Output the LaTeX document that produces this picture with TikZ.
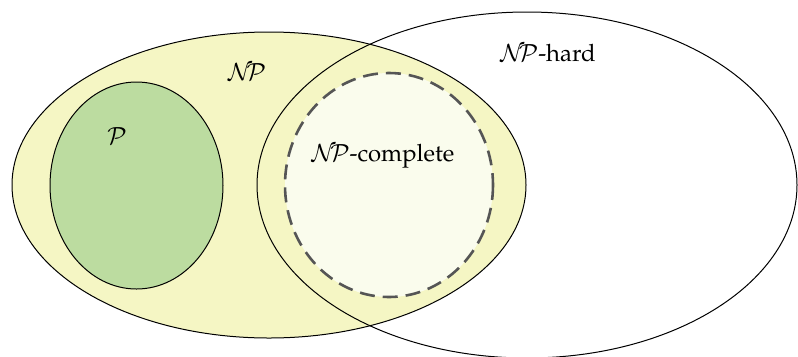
\documentclass[tikz,border=0pt]{standalone}
\usepackage[T1]{fontenc}
\usepackage{mathpazo}
\DeclareMathAlphabet{\mathcal}{OMS}{cmsy}{m}{n}
\newcommand{\calNP}{\ensuremath{\mathcal{N}\mkern-4mu\mathcal{P}}}
\definecolor{npyellow}{RGB}{245,246,196}
\definecolor{pgreen}{RGB}{188,220,160}
\definecolor{npclight}{RGB}{250,252,237}
\definecolor{dashgrey}{RGB}{85,85,85}
\tikzset{
  setline/.style={draw=black, line width=1bp},
  lbl/.style={inner sep=0pt, font=\fontsize{24}{28}\selectfont},
}
\begin{document}
\begin{tikzpicture}[x=1bp,y=-1bp]
\useasboundingbox (0,0) rectangle (798,356);
% NP fill
\fill[npyellow] (269,185) ellipse [x radius=257, y radius=153];
% P
\fill[pgreen] (136.5,185.5) ellipse [x radius=86.5, y radius=103.5];
\draw[setline] (136.5,185.5) ellipse [x radius=86.5, y radius=103.5];
% NP-complete
\fill[npclight] (389,185) ellipse [x radius=104, y radius=112];
\draw[dashgrey, line width=2.6bp, dash pattern=on 15bp off 8bp] (389,185) ellipse [x radius=104, y radius=112];
% outlines
\draw[setline] (269,185) ellipse [x radius=257, y radius=153];
\draw[setline] (527,185) ellipse [x radius=270, y radius=173];
% labels
\node[lbl] (np) at (247,72) {\calNP};
\node[lbl] (p) at (117,136) {$\mathcal{P}$};
\node[lbl] (nphard) at (548,53) {\calNP-hard};
\node[lbl] (npc) at (383,156) {\calNP-complete};
\end{tikzpicture}
\end{document}
